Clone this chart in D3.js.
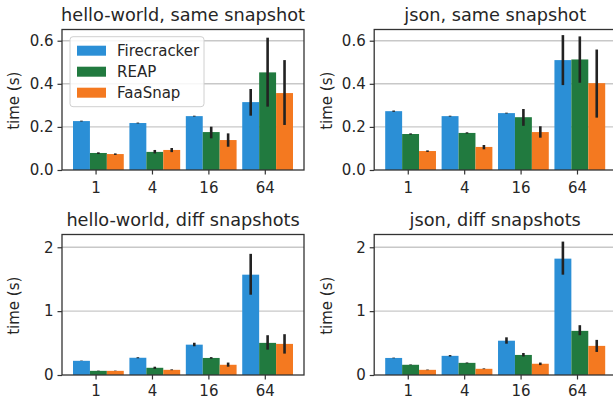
<!DOCTYPE html>
<html><head><meta charset="utf-8">
<script src="https://cdn.jsdelivr.net/npm/d3@7"></script>
<style>body{margin:0;background:#fff;} svg{display:block;} text{font-family:"DejaVu Sans",sans-serif;fill:#262626;}</style>
</head><body>
<svg id="chart" width="613" height="400"></svg>
<script>
const categories = ["1", "4", "16", "64"];
const seriesNames = ["Firecracker", "REAP", "FaaSnap"];
const seriesColors = ["#2b8fd6", "#217a3f", "#f47920"];
const titles = ["hello-world, same snapshot", "json, same snapshot", "hello-world, diff snapshots", "json, diff snapshots"];
const topTicks = [0.0, 0.2, 0.4, 0.6];
const bottomTicks = [0, 1, 2];

// values per series [Firecracker, REAP, FaaSnap], each over categories
const helloSameValues = [[0.227, 0.218, 0.250, 0.315], [0.079, 0.084, 0.176, 0.453], [0.074, 0.093, 0.139, 0.357]];
const helloSameErrors = [
  [[0.225, 0.229], [0.216, 0.220], [0.248, 0.252], [0.252, 0.376]],
  [[0.074, 0.082], [0.077, 0.093], [0.147, 0.201], [0.294, 0.614]],
  [[0.070, 0.077], [0.083, 0.102], [0.108, 0.170], [0.209, 0.510]]];
const jsonSameValues = [[0.273, 0.250, 0.264, 0.510], [0.167, 0.172, 0.245, 0.513], [0.088, 0.107, 0.176, 0.403]];
const jsonSameErrors = [
  [[0.270, 0.276], [0.248, 0.252], [0.262, 0.266], [0.394, 0.626]],
  [[0.164, 0.170], [0.169, 0.175], [0.205, 0.283], [0.405, 0.620]],
  [[0.084, 0.091], [0.096, 0.116], [0.150, 0.203], [0.243, 0.559]]];
const helloDiffValues = [[0.222, 0.270, 0.475, 1.571], [0.065, 0.113, 0.267, 0.503], [0.065, 0.081, 0.160, 0.487]];
const helloDiffErrors = [
  [[0.219, 0.225], [0.262, 0.278], [0.450, 0.505], [1.257, 1.897]],
  [[0.060, 0.068], [0.095, 0.130], [0.255, 0.280], [0.397, 0.623]],
  [[0.062, 0.068], [0.075, 0.088], [0.130, 0.195], [0.335, 0.639]]];
const jsonDiffValues = [[0.267, 0.300, 0.537, 1.822], [0.160, 0.190, 0.314, 0.691], [0.081, 0.097, 0.176, 0.456]];
const jsonDiffErrors = [
  [[0.262, 0.272], [0.290, 0.312], [0.490, 0.590], [1.571, 2.089]],
  [[0.155, 0.165], [0.182, 0.196], [0.290, 0.345], [0.623, 0.780]],
  [[0.076, 0.085], [0.092, 0.103], [0.155, 0.195], [0.361, 0.550]]];

const svg = d3.select("#chart");
svg.append("rect").attr("width", 613).attr("height", 400).attr("fill", "#fff");

const panelW = 242, panelH = 140.5;
const panels = [
  {left: 62, top: 29.5, values: helloSameValues, errors: helloSameErrors, ymax: 0.652, ticks: topTicks, fmt: d3.format(".1f"), legend: true, xpad: 7.5},
  {left: 374.2, top: 29.5, values: jsonSameValues, errors: jsonSameErrors, ymax: 0.652, ticks: topTicks, fmt: d3.format(".1f"), xpad: 7.5},
  {left: 62, top: 234.5, values: helloDiffValues, errors: helloDiffErrors, ymax: 2.2, ticks: bottomTicks, fmt: d3.format("d"), xpad: 5.8},
  {left: 374.2, top: 234.5, values: jsonDiffValues, errors: jsonDiffErrors, ymax: 2.2, ticks: bottomTicks, fmt: d3.format("d"), xpad: 5.8}
];
const barW = 0.3;
const offsets = [-0.25, 0.05, 0.35];

panels.forEach((p, pi) => {
  const g = svg.append("g").attr("transform", `translate(${p.left},${p.top})`);
  const x = d3.scaleLinear().domain([-0.595, 3.695]).range([0, panelW]);
  const y = d3.scaleLinear().domain([0, p.ymax]).range([panelH, 0]);

  // grid
  g.append("g").selectAll("line").data(p.ticks.filter(t => t > 0)).join("line")
    .attr("x1", 0).attr("x2", panelW).attr("y1", d => y(d)).attr("y2", d => y(d))
    .attr("stroke", "#c8c8c8").attr("stroke-width", 1.4);

  // bars
  seriesNames.forEach((s, si) => {
    g.append("g").selectAll("rect").data(p.values[si]).join("rect")
      .attr("x", (d, i) => x(i + offsets[si] - barW / 2))
      .attr("width", x(barW) - x(0))
      .attr("y", d => y(d)).attr("height", d => y(0) - y(d))
      .attr("fill", seriesColors[si]);
  });
  seriesNames.forEach((s, si) => {
    g.append("g").selectAll("line").data(p.errors[si]).join("line")
      .attr("x1", (d, i) => x(i + offsets[si])).attr("x2", (d, i) => x(i + offsets[si]))
      .attr("y1", d => y(d[0])).attr("y2", d => y(d[1]))
      .attr("stroke", "#222").attr("stroke-width", 2.6);
  });

  // axes
  const xAxis = d3.axisBottom(x).tickValues(d3.range(categories.length)).tickFormat(i => categories[i]).tickSizeOuter(0).tickSize(4.5).tickPadding(p.xpad);
  const xg = g.append("g").attr("transform", `translate(0,${panelH})`).call(xAxis);
  const yAxis = d3.axisLeft(y).tickValues(p.ticks).tickFormat(p.fmt).tickSizeOuter(0).tickSize(4.5).tickPadding(4);
  const yg = g.append("g").call(yAxis);
  [xg, yg].forEach(a => {
    a.select(".domain").remove();
    a.selectAll(".tick line").attr("stroke", "#333").attr("stroke-width", 1.2);
    a.selectAll(".tick text").attr("font-size", 15).attr("fill", "#262626").style("font-family", "DejaVu Sans");
  });

  // spines
  g.append("rect").attr("x", 0).attr("y", 0).attr("width", panelW).attr("height", panelH)
    .attr("fill", "none").attr("stroke", "#333").attr("stroke-width", 1.3);

  // title
  g.append("text").attr("x", panelW / 2).attr("y", -9).attr("text-anchor", "middle")
    .attr("font-size", 17.7).text(titles[pi]);

  // y label
  g.append("text").attr("transform", `translate(${pi % 2 === 0 ? -43.5 : -42},${panelH / 2 + 1}) rotate(-90)`)
    .attr("text-anchor", "middle").attr("font-size", 15).text("time (s)");

  if (p.legend) {
    const lg = g.append("g").attr("transform", "translate(8,7.2)");
    lg.append("rect").attr("width", 134).attr("height", 70).attr("rx", 3)
      .attr("fill", "#fff").attr("fill-opacity", 0.85).attr("stroke", "#d0d0d0").attr("stroke-width", 1);
    seriesNames.forEach((s, si) => {
      lg.append("rect").attr("x", 7).attr("y", 9 + si * 21).attr("width", 29).attr("height", 10).attr("fill", seriesColors[si]);
      lg.append("text").attr("x", 47).attr("y", 19 + si * 21).attr("font-size", 15).text(s);
    });
  }
});
</script>
</body></html>
